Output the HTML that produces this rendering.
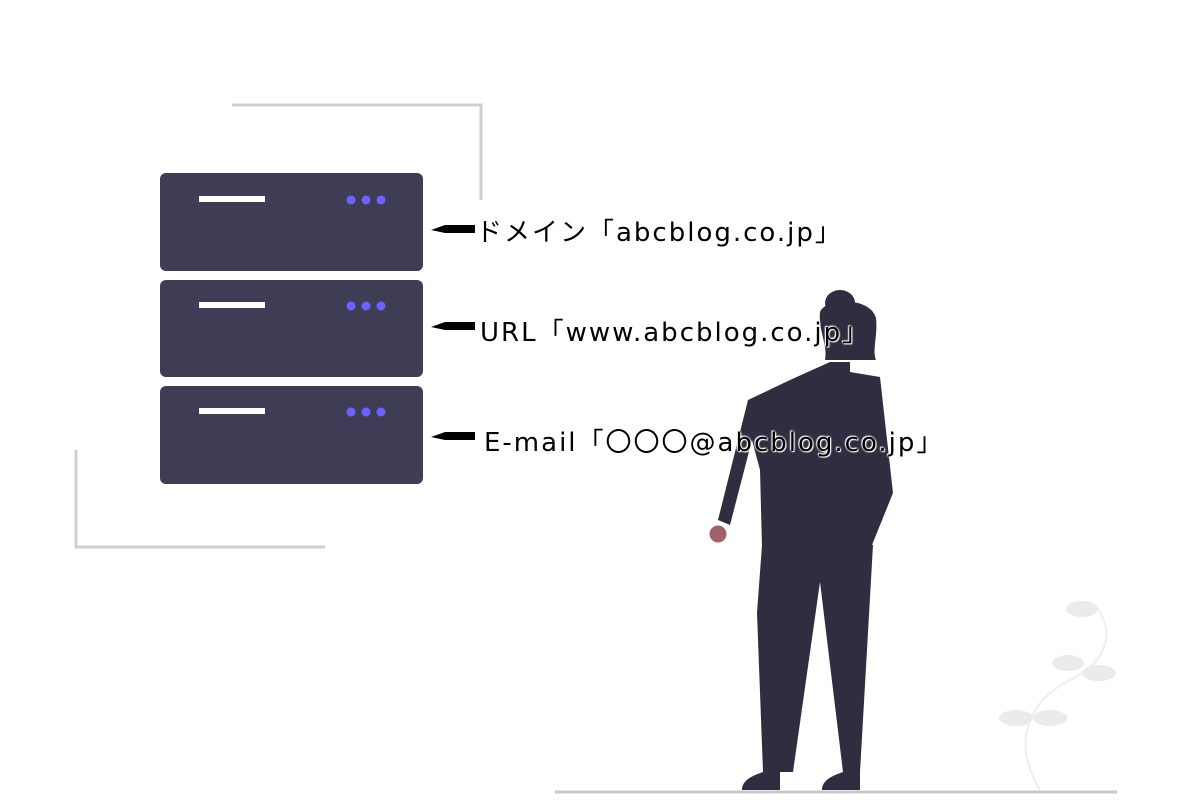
<!DOCTYPE html>
<html><head><meta charset="utf-8"><style>
body{margin:0;background:#fff;width:1200px;height:800px;overflow:hidden;position:relative}
svg{position:absolute;left:0;top:0}
.t{position:absolute;font-family:"DejaVu Sans","Noto Sans CJK JP",sans-serif;font-size:26px;letter-spacing:2px;color:#000;white-space:nowrap;text-shadow:0 0 2px #fff,0 0 2px #fff,1px 1px 1px #fff,-1px -1px 1px #fff}
</style></head><body>
<svg width="1200" height="800">
<g stroke="#d0d0d0" stroke-width="3" fill="none">
<polyline points="232,105 481,105 481,200"/>
<polyline points="76,450 76,547 325,547"/>
<line x1="555" y1="792" x2="1117" y2="792" stroke="#c8c8c8"/>
</g>
<g fill="#3f3d56">
<rect x="160" y="173" width="263" height="98" rx="6"/>
<rect x="160" y="280" width="263" height="97" rx="6"/>
<rect x="160" y="386" width="263" height="98" rx="6"/>
</g>
<g fill="#fff"><rect x="199" y="196" width="66" height="6"/><rect x="199" y="302" width="66" height="6"/><rect x="199" y="408" width="66" height="6"/></g>
<g fill="#6c63ff">
<circle cx="351" cy="200" r="4.5"/><circle cx="366" cy="200" r="4.5"/><circle cx="381" cy="200" r="4.5"/>
<circle cx="351" cy="306" r="4.5"/><circle cx="366" cy="306" r="4.5"/><circle cx="381" cy="306" r="4.5"/>
<circle cx="351" cy="412" r="4.5"/><circle cx="366" cy="412" r="4.5"/><circle cx="381" cy="412" r="4.5"/>
</g>
<g fill="#000">
<polygon points="431,230 445,225 475,225 475,233 445,233"/>
<polygon points="431,327 445,322 475,322 475,330 445,330"/>
<polygon points="431,437 445,432 475,432 475,440 445,440"/>
</g>
<path d="M1040,790 C1010,740 1030,700 1070,680 C1110,660 1115,630 1095,605" stroke="#eee" stroke-width="2" fill="none"/>
<g fill="#ebebeb">
<ellipse cx="1082" cy="609" rx="16" ry="8"/><ellipse cx="1068" cy="663" rx="16" ry="8"/><ellipse cx="1099" cy="673" rx="17" ry="8"/><ellipse cx="1016" cy="718" rx="17" ry="8"/><ellipse cx="1050" cy="718" rx="17" ry="8"/>
</g>
<g fill="#2f2e41">
<ellipse cx="840" cy="303" rx="15" ry="13"/>
<path d="M820,312 C825,298 870,296 876,318 C878,335 872,350 876,360 L825,360 C828,345 818,330 820,312Z"/>
<polygon points="830,362 850,362 850,372 880,377 893,493 872,545 762,547 760,470 752,440 730,525 718,520 748,400 790,380"/>
<polygon points="762,545 873,545 860,772 843,772 820,582 793,772 763,772 757,613"/>
<path d="M763,772 L780,772 L780,790 L742,790 C742,780 752,776 763,772Z"/>
<path d="M843,772 L860,772 L860,790 L822,790 C822,780 832,776 843,772Z"/>
</g>
<circle cx="718" cy="534" r="8.5" fill="#a0616a"/>
</svg>
<div class="t" style="left:476px;top:212px">ドメイン「abcblog.co.jp」</div>
<div class="t" style="left:480px;top:312px">URL「www.abcblog.co.jp」</div>
<div class="t" style="left:484px;top:422px">E-mail「〇〇〇@abcblog.co.jp」</div>
</body></html>
